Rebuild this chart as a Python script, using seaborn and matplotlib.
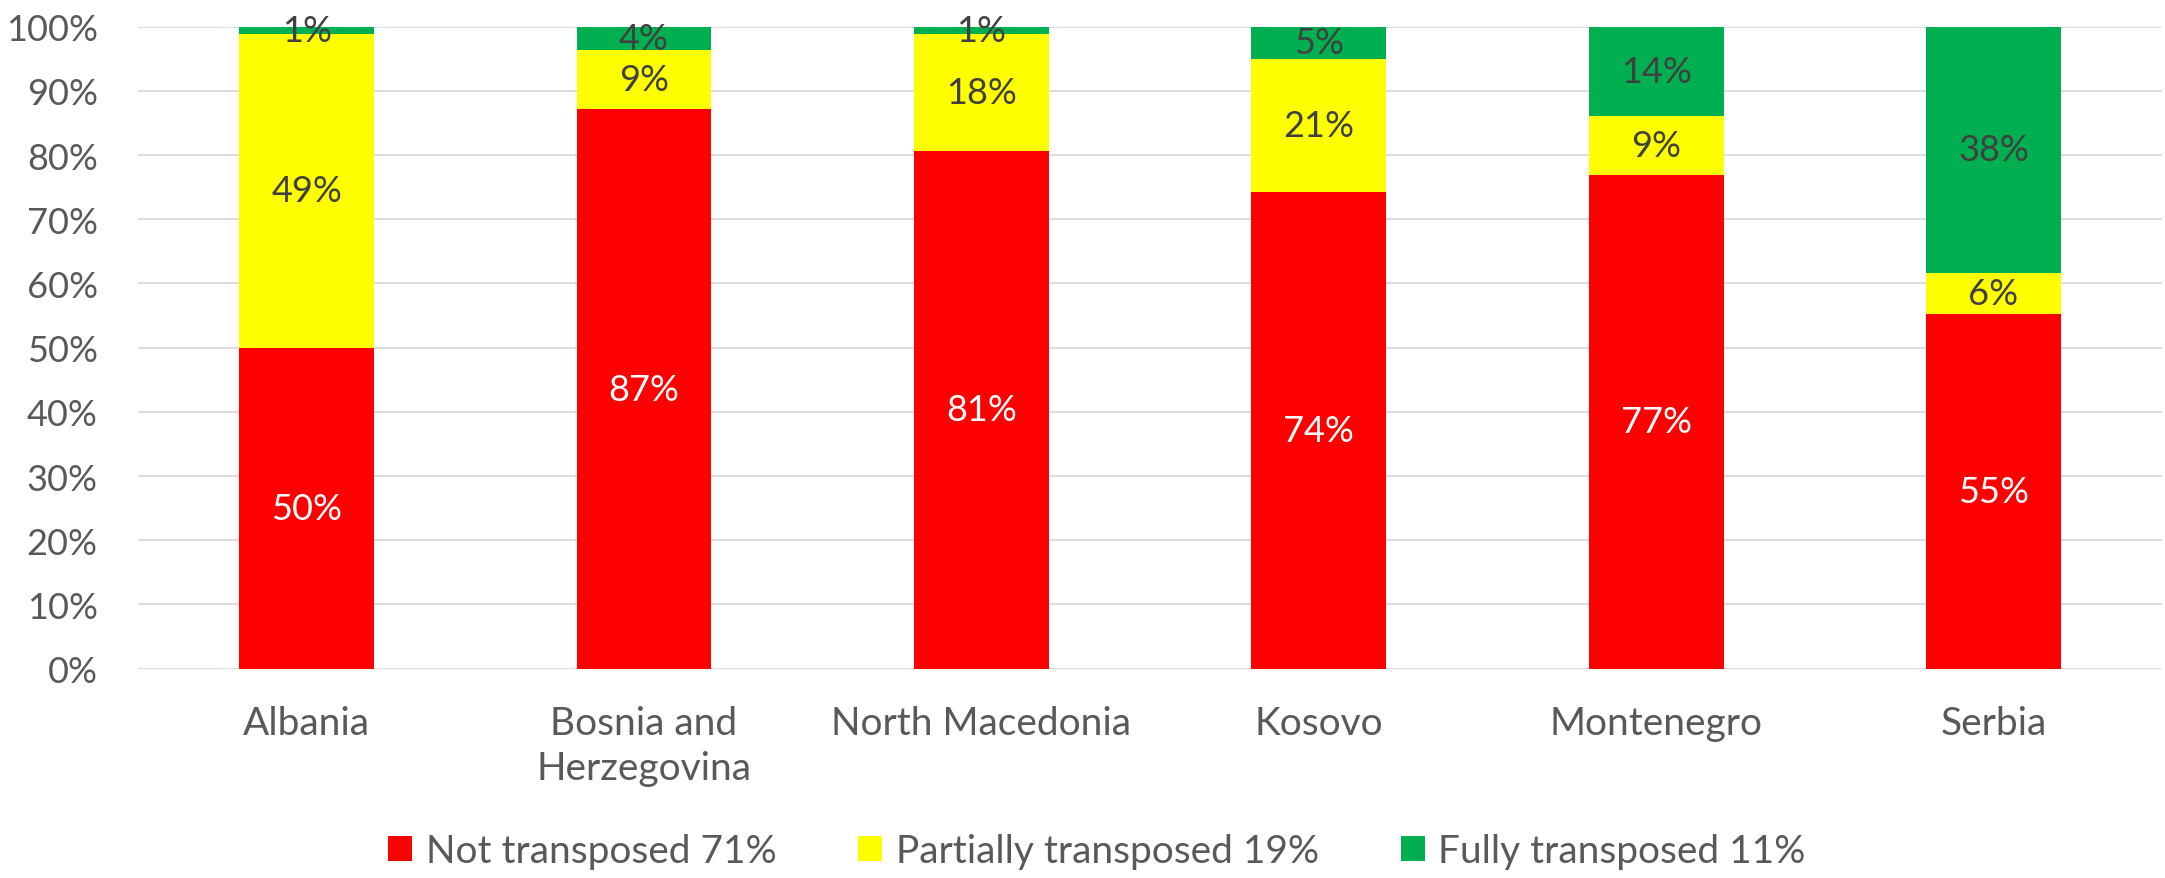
import numpy as np
import pandas as pd
import matplotlib
matplotlib.use("Agg")
import matplotlib.pyplot as plt
from matplotlib.patches import Patch
import seaborn as sns

# Data (percent of each country's total)
countries = ["Albania", "Bosnia and\nHerzegovina", "North Macedonia", "Kosovo", "Montenegro", "Serbia"]
not_transposed = [50.0, 87.1, 80.7, 74.2, 76.9, 55.2]
partially_transposed = [48.8, 9.2, 18.2, 20.7, 9.1, 6.4]
fully_transposed = [1.2, 3.7, 1.1, 5.1, 14.0, 38.4]
series_names = ["Not transposed 71%", "Partially transposed 19%", "Fully transposed 11%"]
series_colors = ["#FF0000", "#FFFF00", "#00B050"]
label_colors = ["white", "#404040", "#404040"]

df = pd.DataFrame({
    "country": countries,
    "not": not_transposed,
    "partial": partially_transposed,
    "full": fully_transposed,
})

sns.set_style("white")
plt.rcParams["font.family"] = ["Lato", "DejaVu Sans"]

fig = plt.figure(figsize=(21.65, 8.79), dpi=100)
ax = fig.add_axes([0.0637, 0.2382, 0.935, 0.7304])

bottom = np.zeros(len(df))
for col, color, lcolor in zip(["not", "partial", "full"], series_colors, label_colors):
    sns.barplot(data=df, x="country", y=col, color=color, width=0.4,
                bottom=bottom, ax=ax, saturation=1, linewidth=0)
    container = ax.containers[-1]
    ax.bar_label(container, labels=[f"{round(v)}%" for v in df[col]],
                 label_type="center", color=lcolor, fontsize=26)
    bottom = bottom + df[col].to_numpy()

ax.set_ylim(0, 100)
ax.set_xlim(-0.5, len(countries) - 0.5)
ax.set_yticks(np.arange(0, 101, 10))
ax.set_yticklabels([f"{t}%" for t in range(0, 101, 10)])
ax.yaxis.grid(True, color="#D9D9D9", linewidth=1.3)
ax.set_axisbelow(True)
ax.tick_params(axis="both", length=0, labelsize=26, labelcolor="#595959")
ax.tick_params(axis="y", pad=29)
ax.tick_params(axis="x", pad=26, labelsize=28)
for lbl in ax.get_xticklabels():
    lbl.set_linespacing(1.33)
ax.set_xlabel("")
ax.set_ylabel("")
sns.despine(ax=ax, left=True, bottom=True)

handles = [Patch(facecolor=c, edgecolor="none") for c in series_colors]
fig.legend(handles, series_names, loc="center", bbox_to_anchor=(1097 / 2165, 1 - 852 / 879),
           ncol=3, frameon=False, fontsize=28, labelcolor="#595959",
           handlelength=0.62, handleheight=0.62, handletextpad=0.35, columnspacing=2.1)

fig.savefig("out.png", dpi=100)
